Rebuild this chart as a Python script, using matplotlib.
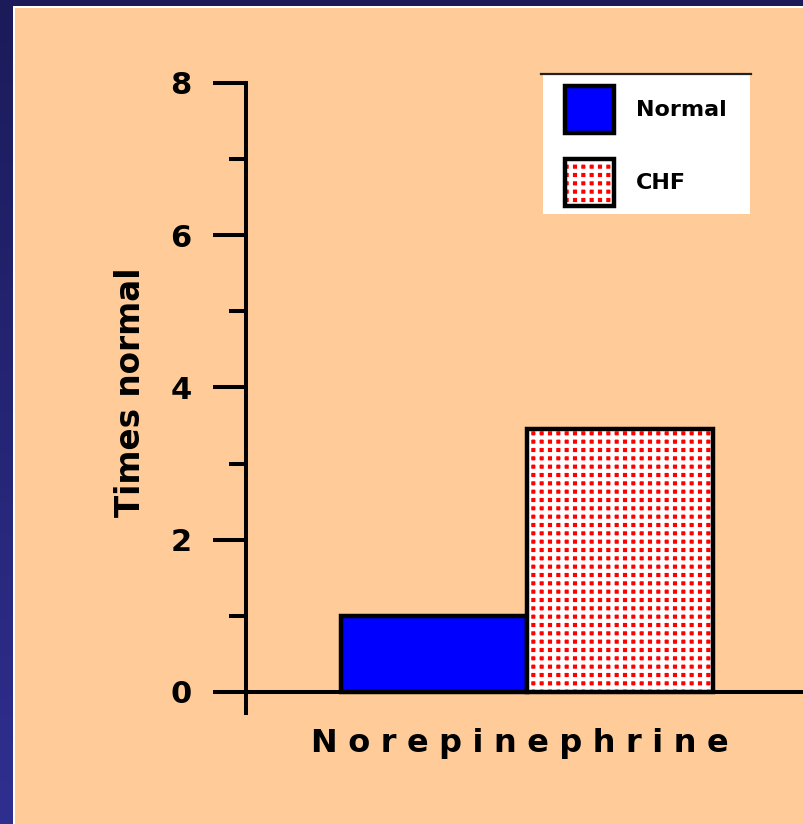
import numpy as np
import matplotlib
matplotlib.use("Agg")
import matplotlib.pyplot as plt
from matplotlib.patches import Rectangle
from matplotlib.colors import LinearSegmentedColormap

# data
categories = ["Normal", "CHF"]
values = [1.0, 3.45]
bar_colors = ["#0000ff", "#ff0000"]
y_ticks = [0, 2, 4, 6, 8]
y_minor = [1, 3, 5, 7]
x_label = "Norepinephrine"
y_label = "Times normal"

W, H = 804, 824
plt.rcParams["font.family"] = ["DejaVu Sans"]
plt.rcParams["hatch.linewidth"] = 3.0

fig = plt.figure(figsize=(W / 100, H / 100), dpi=100)


def fx(px):
    return px / W


def fy(py):
    return 1 - py / H


# slide background: navy gradient, white rule, peach panel
bg = fig.add_axes([0, 0, 1, 1], zorder=-10)
grad = np.linspace(0, 1, 256)[:, None]
cmap = LinearSegmentedColormap.from_list("slide", ["#1b1b5a", "#2f2f90"])
bg.imshow(grad, aspect="auto", cmap=cmap, extent=[0, 1, 0, 1])
bg.add_patch(Rectangle((fx(13), 0), 1, fy(6), facecolor="white", edgecolor="none"))
bg.add_patch(Rectangle((fx(15), 0), 1, fy(8), facecolor="#ffcc99", edgecolor="none"))
# legend box
bg.add_patch(Rectangle((fx(543), fy(214)), fx(750) - fx(543), fy(74) - fy(214),
                       facecolor="white", edgecolor="none"))
bg.plot([fx(541), fx(751)], [fy(74), fy(74)], color="#222222", lw=1.6)
bg.set_xlim(0, 1)
bg.set_ylim(0, 1)
bg.set_axis_off()

ax = fig.add_axes([fx(246), fy(713), 1 - fx(246), fy(83) - fy(713)])
ax.set_facecolor("none")

x = np.arange(len(categories))
b_norm = ax.bar(x[0], values[0], width=1, color=bar_colors[0],
                edgecolor="black", linewidth=3.2, zorder=3)
b_chf_fill = ax.bar(x[1], values[1], width=1, color=bar_colors[1],
                    edgecolor="white", linewidth=0, hatch="++", zorder=3)
b_chf_edge = ax.bar(x[1], values[1], width=1, facecolor="none",
                    edgecolor="black", linewidth=3.2, zorder=4)

ax.set_xlim(-1.01, 1.99)
ax.set_ylim(-0.276, 8)

for s in ["top", "right"]:
    ax.spines[s].set_visible(False)
ax.spines["left"].set_linewidth(2.9)
ax.spines["bottom"].set_linewidth(2.9)
ax.spines["bottom"].set_position(("data", 0))

ax.set_xticks([])
ax.set_yticks(y_ticks)
ax.set_yticks(y_minor, minor=True)
ax.tick_params(axis="y", which="major", length=24, width=2.9, pad=15, labelsize=22)
ax.tick_params(axis="y", which="minor", length=12, width=2.9)
for lab in ax.get_yticklabels():
    lab.set_fontweight("bold")

ax.set_ylabel(y_label, fontsize=23.5, fontweight="bold")
ax.yaxis.label.set_verticalalignment("baseline")
ax.yaxis.set_label_coords((140 - 246) / 558, (713 - 392) / 630)

ax.set_xlabel("\u2004".join(x_label), fontsize=23, fontweight="bold")
ax.xaxis.label.set_verticalalignment("baseline")
ax.xaxis.set_label_coords((520 - 246) / 558, (713 - 752) / 630)

ax.legend([b_norm, (b_chf_fill, b_chf_edge)], categories,
          loc="upper left", bbox_to_anchor=(fx(565), fy(86)),
          bbox_transform=fig.transFigure, frameon=False,
          borderpad=0, borderaxespad=0, handlelength=2.2, handleheight=2.85,
          labelspacing=1.2, handletextpad=1.0,
          prop=dict(size=16, weight="bold"))

fig.savefig("out.png", dpi=100)
